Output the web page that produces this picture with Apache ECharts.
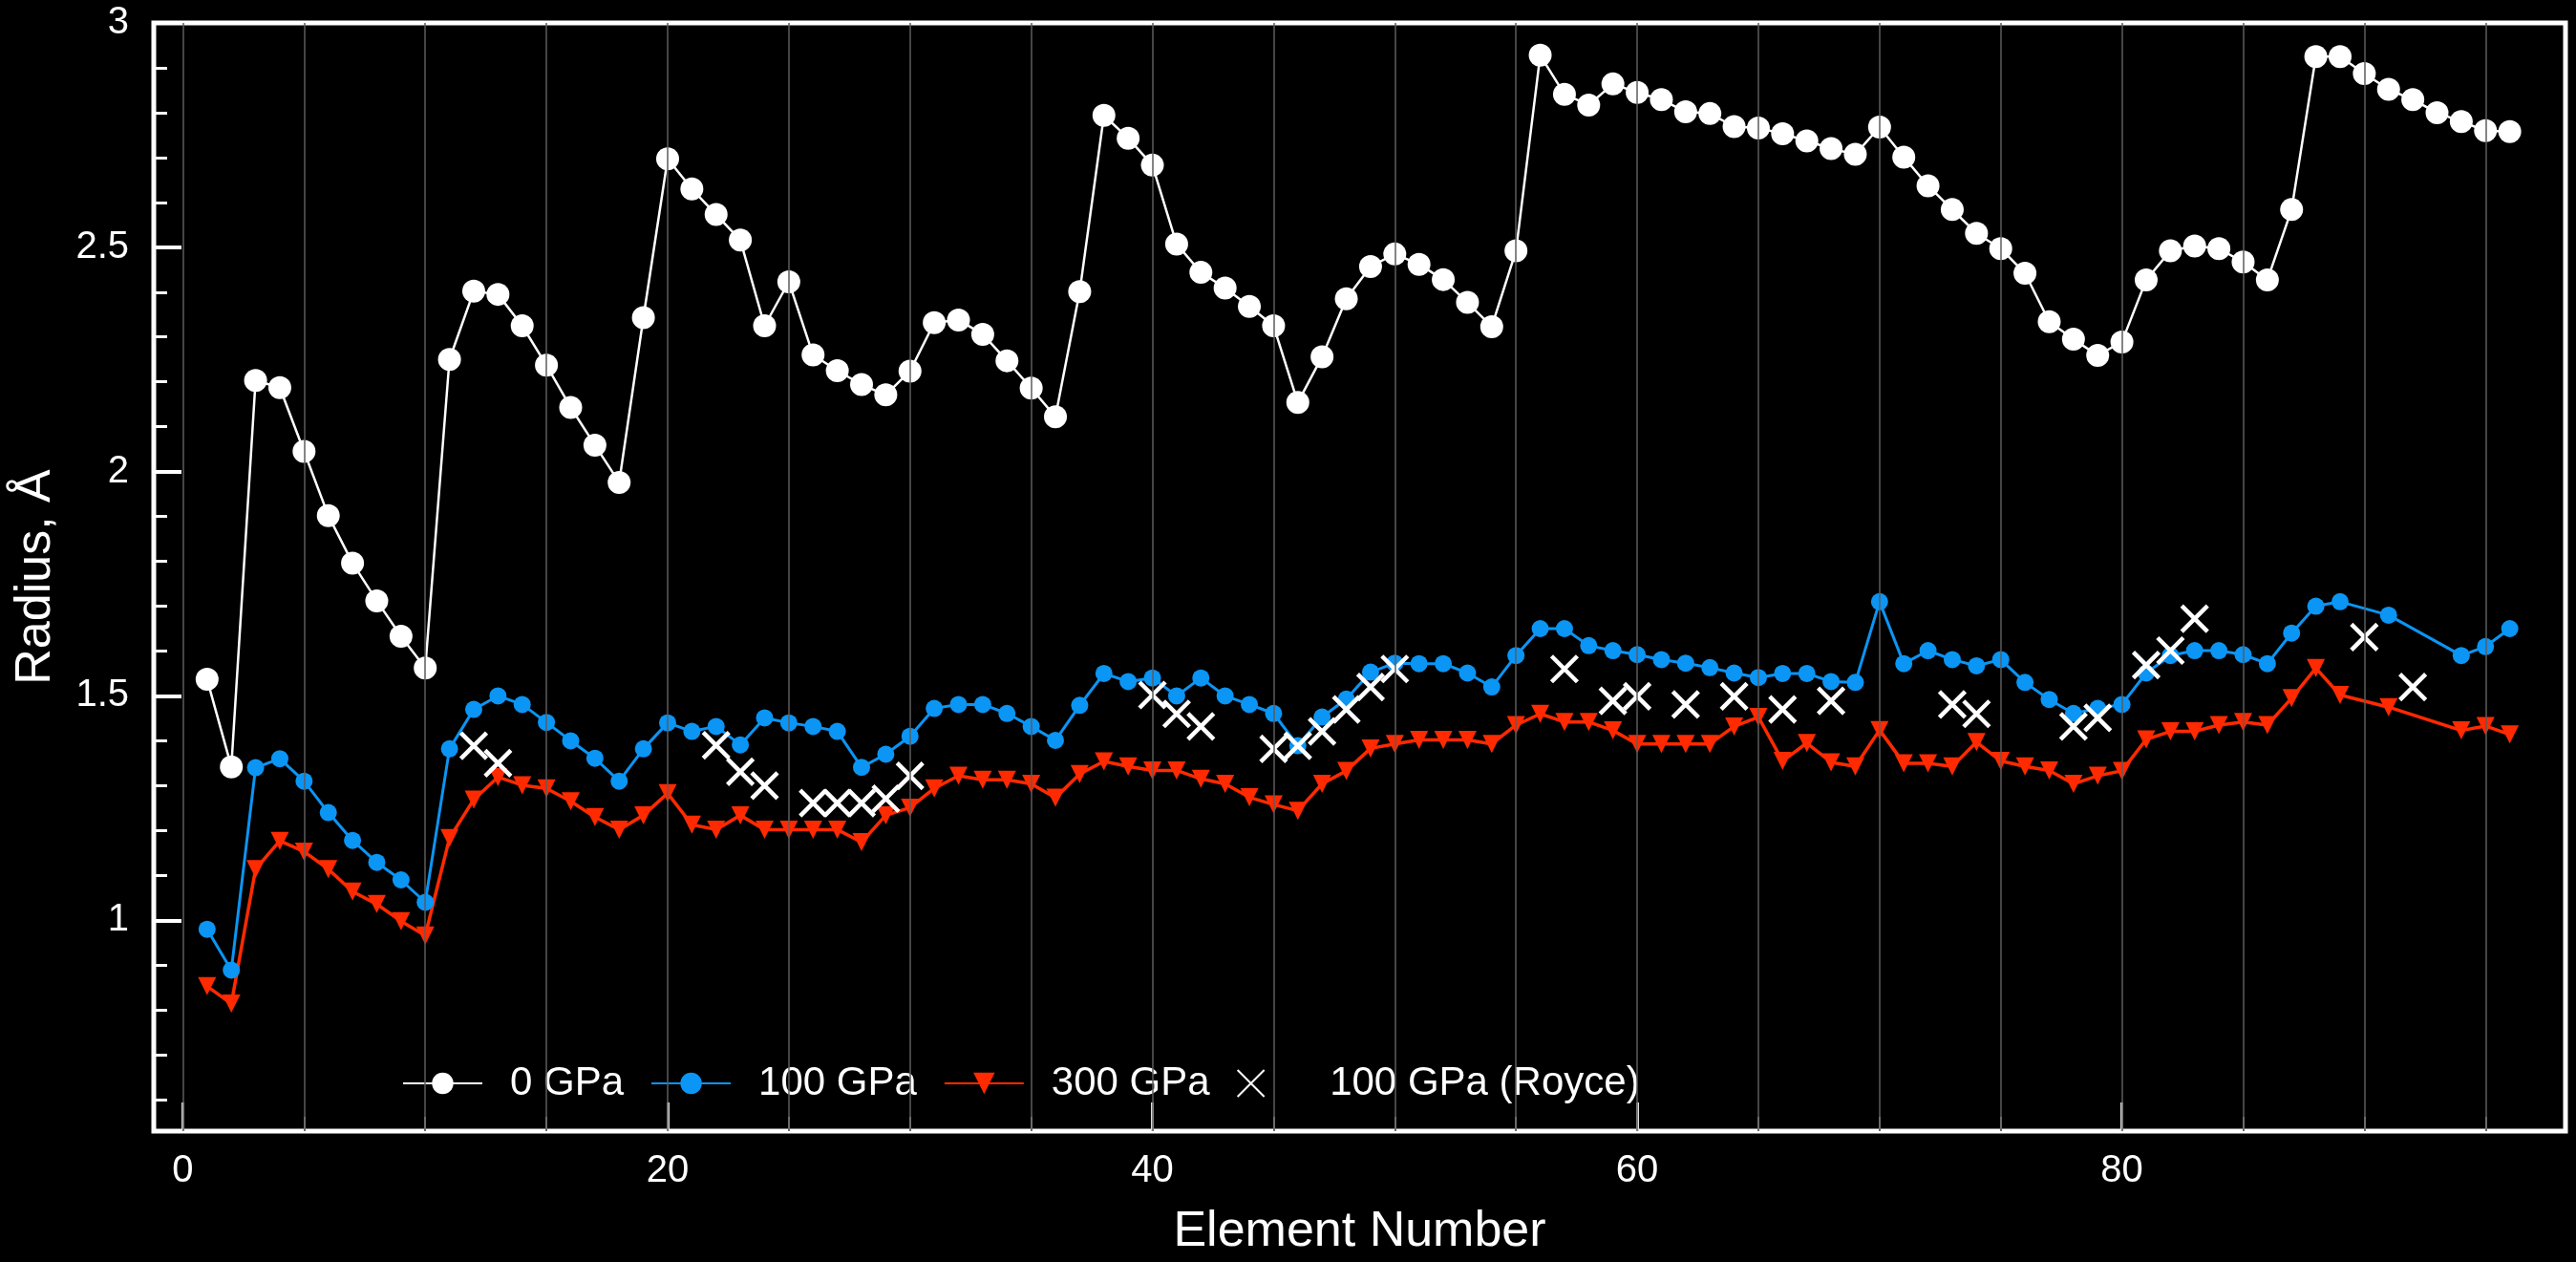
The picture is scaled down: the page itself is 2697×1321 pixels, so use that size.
<!DOCTYPE html>
<html>
<head>
<meta charset="utf-8">
<title>Radius vs Element Number</title>
<script src="https://cdn.jsdelivr.net/npm/echarts@6.0.0/dist/echarts.min.js"></script>
<style>
    html, body {margin: 0; padding: 0; background: #000;}
    #chart {width: 2697px; height: 1321px;}
</style>
</head>
<body>
<div id="chart"></div>
<script>
// 0 GPa, every element
var aElement0 = [1, 2, 3, 4, 5, 6, 7, 8, 9, 10, 11, 12, 13, 14, 15, 16, 17, 18, 19, 20,
    21, 22, 23, 24, 25, 26, 27, 28, 29, 30, 31, 32, 33, 34, 35, 36, 37, 38, 39, 40,
    41, 42, 43, 44, 45, 46, 47, 48, 49, 50, 51, 52, 53, 54, 55, 56, 57, 58, 59, 60,
    61, 62, 63, 64, 65, 66, 67, 68, 69, 70, 71, 72, 73, 74, 75, 76, 77, 78, 79, 80,
    81, 82, 83, 84, 85, 86, 87, 88, 89, 90, 91, 92, 93, 94, 95, 96];
var aRadius0 = [1.537, 1.342, 2.203, 2.187, 2.045, 1.902, 1.796, 1.712, 1.633, 1.562,
    2.250, 2.402, 2.395, 2.325, 2.237, 2.143, 2.059, 1.976, 2.343, 2.697,
    2.630, 2.573, 2.516, 2.325, 2.423, 2.260, 2.225, 2.194, 2.171, 2.224,
    2.332, 2.338, 2.306, 2.247, 2.186, 2.122, 2.401, 2.794, 2.743, 2.683,
    2.507, 2.444, 2.409, 2.368, 2.325, 2.154, 2.256, 2.385, 2.457, 2.485,
    2.462, 2.428, 2.377, 2.323, 2.492, 2.928, 2.841, 2.817, 2.864, 2.845,
    2.829, 2.802, 2.798, 2.769, 2.766, 2.753, 2.737, 2.720, 2.707, 2.768,
    2.701, 2.637, 2.584, 2.531, 2.497, 2.442, 2.334, 2.295, 2.259, 2.289,
    2.427, 2.492, 2.503, 2.497, 2.467, 2.427, 2.584, 2.925, 2.925, 2.887,
    2.852, 2.829, 2.800, 2.780, 2.760, 2.758];

// 100 GPa / 300 GPa share the same elements
var aElementHP = [1, 2, 3, 4, 5, 6, 7, 8, 9, 10, 11, 12, 13, 14, 15, 16, 17, 18, 19, 20,
    21, 22, 23, 24, 25, 26, 27, 28, 29, 30, 31, 32, 33, 34, 35, 36, 37, 38, 39, 40,
    41, 42, 43, 44, 45, 46, 47, 48, 49, 50, 51, 52, 53, 54, 55, 56, 57, 58, 59, 60,
    61, 62, 63, 64, 65, 66, 67, 68, 69, 70, 71, 72, 73, 74, 75, 76, 77, 78, 79, 80,
    81, 82, 83, 84, 85, 86, 87, 88, 89, 91, 94, 95, 96];
var aRadius100 = [0.980, 0.889, 1.340, 1.360, 1.310, 1.240, 1.178, 1.129, 1.090, 1.040,
    1.382, 1.470, 1.500, 1.481, 1.441, 1.400, 1.361, 1.310, 1.382, 1.440,
    1.421, 1.432, 1.391, 1.451, 1.440, 1.432, 1.421, 1.341, 1.370, 1.410,
    1.472, 1.481, 1.481, 1.461, 1.432, 1.401, 1.479, 1.550, 1.532, 1.540,
    1.500, 1.540, 1.500, 1.481, 1.461, 1.389, 1.453, 1.493, 1.553, 1.573,
    1.572, 1.572, 1.551, 1.520, 1.590, 1.650, 1.650, 1.612, 1.601, 1.592,
    1.581, 1.573, 1.563, 1.551, 1.541, 1.550, 1.550, 1.532, 1.530, 1.710,
    1.572, 1.601, 1.581, 1.567, 1.581, 1.530, 1.492, 1.461, 1.472, 1.481,
    1.551, 1.590, 1.601, 1.601, 1.592, 1.572, 1.640, 1.700, 1.710,
    1.680, 1.590, 1.610, 1.650];
var aRadius300 = [0.853, 0.814, 1.114, 1.177, 1.153, 1.114, 1.064, 1.036, 0.998, 0.966,
    1.183, 1.269, 1.319, 1.301, 1.294, 1.265, 1.230, 1.202, 1.234, 1.283,
    1.213, 1.202, 1.234, 1.202, 1.202, 1.202, 1.202, 1.174, 1.234, 1.251,
    1.294, 1.322, 1.313, 1.313, 1.304, 1.273, 1.326, 1.354, 1.343, 1.334,
    1.334, 1.315, 1.304, 1.274, 1.258, 1.244, 1.304, 1.333, 1.383, 1.393,
    1.402, 1.402, 1.402, 1.393, 1.435, 1.460, 1.442, 1.442, 1.423, 1.393,
    1.393, 1.393, 1.393, 1.432, 1.453, 1.355, 1.395, 1.352, 1.343, 1.424,
    1.350, 1.350, 1.343, 1.397, 1.355, 1.343, 1.334, 1.304, 1.322, 1.333,
    1.403, 1.421, 1.421, 1.435, 1.442, 1.435, 1.495, 1.562, 1.502,
    1.475, 1.423, 1.433, 1.414];

// 100 GPa (Royce)
var aRoyceElement = [12, 13, 22, 23, 24, 26, 27, 28, 29, 30, 40, 41, 42, 45, 46, 47, 48, 49, 50,
    57, 59, 60, 62, 64, 66, 68, 73, 74, 78, 79, 81, 82, 83, 90, 92];
var aRoyceRadius = [1.389, 1.350, 1.390, 1.331, 1.300, 1.261, 1.261, 1.261, 1.271, 1.322,
    1.502, 1.460, 1.432, 1.382, 1.389, 1.421, 1.470, 1.520, 1.560,
    1.560, 1.489, 1.499, 1.481, 1.499, 1.470, 1.489, 1.481, 1.460, 1.432, 1.451,
    1.569, 1.601, 1.672, 1.631, 1.520];

// 刻度
var aXLabel = [0, 20, 40, 60, 80];
var aXMinor = [5, 10, 15, 25, 30, 35, 45, 50, 55, 65, 70, 75, 85, 90, 95];
var aXGrid = [0, 5, 10, 15, 20, 25, 30, 35, 40, 45, 50, 55, 60, 65, 70, 75, 80, 85, 90, 95];
var aYLabel = [1, 1.5, 2, 2.5, 3];
var aYMinor = [0.6, 0.7, 0.8, 0.9, 1.1, 1.2, 1.3, 1.4, 1.6, 1.7, 1.8, 1.9,
    2.1, 2.2, 2.3, 2.4, 2.6, 2.7, 2.8, 2.9];

var sFont = '"Liberation Sans", Arial, Helvetica, sans-serif';

function Pairs(aX, aY) {
    var aData = [];
    for (var i = 0; i < aX.length; i++) {
        aData.push([aX[i], aY[i]]);
    }
    return aData
}

function GetOption() {
    var aGridLine = [];
    for (var i = 0; i < aXGrid.length; i++) {
        aGridLine.push({xAxis: aXGrid[i]});
    }
    var jOption = {
        backgroundColor: '#000',
        animation: false,
        textStyle: {fontFamily: sFont},
        grid: {
            left: 161, right: 11, top: 24, bottom: 132,
            show: true,
            borderColor: '#fff',
            borderWidth: 5,
            backgroundColor: 'transparent'
        },
        legend: {
            left: 416,
            top: 1108,
            itemWidth: 83,
            itemHeight: 28,
            itemGap: 28,
            textStyle: {color: '#fff', fontSize: 42, fontFamily: sFont, padding: [0, 0, 0, 24]},
            data: [
                '0 GPa',
                '100 GPa',
                {name: '300 GPa', textStyle: {padding: [0, 20, 0, 24]}},
                {name: '100 GPa (Royce)', textStyle: {padding: [0, 0, 0, 36]}}
            ]
        },
        xAxis: [
            {
                type: 'value', min: -1.2, max: 98.3,
                name: 'Element Number',
                nameLocation: 'middle',
                nameGap: 80,
                nameMoveOverlap: false,
                nameTextStyle: {color: '#fff', fontSize: 52, fontFamily: sFont},
                axisLine: {show: false, onZero: false},
                axisTick: {show: true, inside: true, length: 30, customValues: aXLabel,
                    lineStyle: {color: '#ddd', width: 3}},
                axisLabel: {show: true, customValues: aXLabel, color: '#fff', fontSize: 40, margin: 22},
                splitLine: {show: false}
            },
            {
                type: 'value', min: -1.2, max: 98.3, position: 'bottom',
                axisLine: {show: false, onZero: false},
                axisTick: {show: true, inside: true, length: 15, customValues: aXMinor,
                    lineStyle: {color: '#999', width: 2}},
                axisLabel: {show: false},
                splitLine: {show: false}
            }
        ],
        yAxis: [
            {
                type: 'value', min: 0.53, max: 3,
                name: 'Radius, Å',
                nameLocation: 'middle',
                nameGap: 97,
                nameMoveOverlap: false,
                nameRotate: 90,
                nameTextStyle: {color: '#fff', fontSize: 52, fontFamily: sFont},
                axisLine: {show: false, onZero: false},
                axisTick: {show: true, inside: true, length: 29, customValues: aYLabel,
                    lineStyle: {color: '#fff', width: 4}},
                axisLabel: {show: true, customValues: aYLabel, color: '#fff', fontSize: 40, margin: 26},
                splitLine: {show: false}
            },
            {
                type: 'value', min: 0.53, max: 3, position: 'left',
                axisLine: {show: false, onZero: false},
                axisTick: {show: true, inside: true, length: 14, customValues: aYMinor,
                    lineStyle: {color: '#fff', width: 3}},
                axisLabel: {show: false},
                splitLine: {show: false}
            }
        ],
        series: [
            {
                // 竖向网格线
                name: 'grid',
                type: 'line',
                data: [],
                z: 1,
                silent: true,
                markLine: {
                    silent: true,
                    symbol: ['none', 'none'],
                    label: {show: false},
                    lineStyle: {color: '#5c5c5c', width: 1.5, type: 'solid'},
                    data: aGridLine
                }
            },
            {
                name: '0 GPa',
                type: 'line',
                z: 3,
                data: Pairs(aElement0, aRadius0),
                symbol: 'circle',
                symbolSize: 24,
                itemStyle: {color: '#fff'},
                lineStyle: {color: '#fff', width: 2.5}
            },
            {
                name: '100 GPa',
                type: 'line',
                z: 3,
                data: Pairs(aElementHP, aRadius100),
                symbol: 'circle',
                symbolSize: 18,
                itemStyle: {color: '#0b95f4'},
                lineStyle: {color: '#0b95f4', width: 3}
            },
            {
                name: '300 GPa',
                type: 'line',
                z: 3,
                data: Pairs(aElementHP, aRadius300),
                symbol: 'triangle',
                symbolRotate: 180,
                symbolSize: 19,
                itemStyle: {color: '#ff2a00'},
                lineStyle: {color: '#ff2a00', width: 3.5}
            },
            {
                name: '100 GPa (Royce)',
                type: 'scatter',
                z: 4,
                data: Pairs(aRoyceElement, aRoyceRadius),
                symbol: 'path://M0,0L10,10M10,0L0,10',
                symbolKeepAspect: true,
                symbolSize: 27,
                itemStyle: {color: 'rgba(0,0,0,0)', borderColor: '#fff', borderWidth: 4.5, opacity: 1}
            }
        ]
    };
    return jOption
}

function SetOption(jOption, sTagID) {
    var objectDom = document.getElementById(sTagID);
    var myChart = echarts.init(objectDom, null, {renderer: 'canvas'});
    myChart.setOption(jOption);
    return myChart
}

SetOption(GetOption(), 'chart');
</script>
</body>
</html>
